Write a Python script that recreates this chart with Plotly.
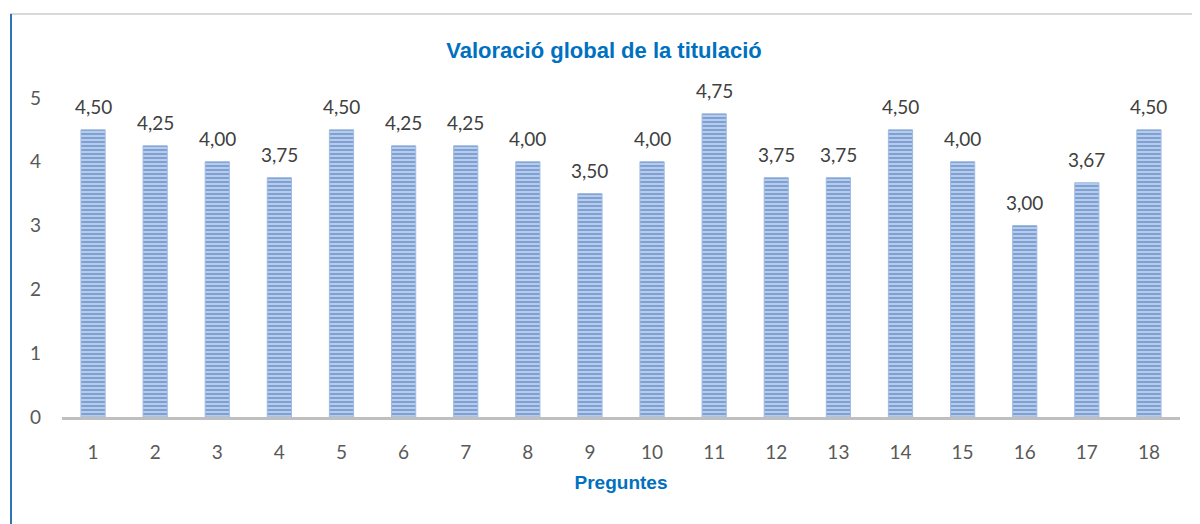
import plotly.graph_objects as go

categories = [str(i) for i in range(1, 19)]
values = [4.50, 4.25, 4.00, 3.75, 4.50, 4.25, 4.25, 4.00, 3.50, 4.00,
          4.75, 3.75, 3.75, 4.50, 4.00, 3.00, 3.67, 4.50]
title_text = "Valoració global de la titulació"
x_title = "Preguntes"
y_ticks = [0, 1, 2, 3, 4, 5]

fig = go.Figure(go.Bar(
    x=categories, y=values,
    marker=dict(
        color="#b9cfec",
        line=dict(color="#9fbbe3", width=1),
        pattern=dict(shape="-", fgcolor="#3f70b8", bgcolor="#bcd1ed", size=4, solidity=0.55),
    ),
    cliponaxis=False,
))

# data labels (category axis: annotation x given as category index)
for i, v in enumerate(values):
    fig.add_annotation(x=i, y=v, text=f"{v:.2f}".replace(".", ","), showarrow=False,
                       yanchor="bottom", yshift=10,
                       font=dict(family="Lato, Open Sans, sans-serif", size=19, color="#404040"))

# page has an 8px body margin; figure is sized/offset accordingly
OFF = 8
W, H = 1200 - OFF, 524 - OFF
ml, mr, mt, mb = 62 - OFF, 20, 80 - OFF, 107

fig.update_layout(
    width=W, height=H,
    margin=dict(l=ml, r=mr, t=mt, b=mb),
    paper_bgcolor="white", plot_bgcolor="white",
    bargap=0.61,
    showlegend=False,
    title=dict(text=title_text, x=0.5, xanchor="center", y=1 - (50 - OFF) / H, yanchor="middle",
               font=dict(family="Liberation Sans, Arial, sans-serif", size=22, color="#0070c0", weight="bold")),
    xaxis=dict(
        type="category", range=[-0.5, len(categories) - 0.5],
        showline=True, linecolor="#bfbfbf", linewidth=3, showgrid=False, ticks="",
        ticklabelstandoff=16,
        tickfont=dict(family="Lato, Open Sans, sans-serif", size=19, color="#595959"),
        title=dict(text=x_title, standoff=14,
                   font=dict(family="Liberation Sans, Arial, sans-serif", size=19, color="#0070c0", weight="bold")),
    ),
    yaxis=dict(
        range=[0, 5.28], tickvals=y_ticks, showgrid=False, zeroline=False, showline=False,
        ticks="", ticklabelstandoff=20,
        tickfont=dict(family="Lato, Open Sans, sans-serif", size=19, color="#595959"),
    ),
)

pw = W - ml - mr
ph = H - mt - mb
def px(x):
    return (x - OFF - ml) / pw
def py(y):
    return (H - mb - (y - OFF)) / ph

# chart frame: top gray border and left blue border
fig.add_shape(type="line", xref="paper", yref="paper",
              x0=px(10), x1=px(1200), y0=py(14), y1=py(14),
              line=dict(color="#d9d9d9", width=2))
fig.add_shape(type="line", xref="paper", yref="paper",
              x0=px(11), x1=px(11), y0=py(14), y1=py(524),
              line=dict(color="#2e75b6", width=2))

fig.write_html("out.html")
